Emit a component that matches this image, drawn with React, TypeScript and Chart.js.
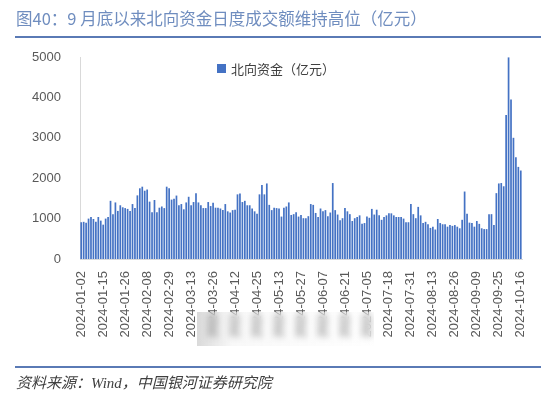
import React, { useEffect, useRef } from "react";
import { Chart, registerables } from "chart.js";

Chart.register(...registerables);

const year = "2024";
const janDays = [2, 3, 4, 5, 8, 9, 10, 11, 12, 15, 16, 17, 18, 19, 22, 23, 24, 25, 26, 29, 30, 31];
const febDays = [1, 2, 5, 6, 7, 8, 19, 20, 21, 22, 23, 26, 27, 28, 29];
const marDays = [1, 4, 5, 6, 7, 8, 11, 12, 13, 14, 15, 18, 19, 20, 21, 22, 25, 26, 27, 28];
const aprDays = [2, 3, 8, 9, 10, 11, 12, 15, 16, 17, 18, 19, 22, 23, 24, 25, 26, 29, 30];
const mayDays = [6, 7, 8, 9, 10, 13, 14, 16, 17, 20, 21, 22, 23, 24, 27, 28, 29, 30, 31];
const junDays = [3, 4, 5, 6, 7, 11, 12, 13, 14, 17, 18, 19, 20, 21, 24, 25, 26, 27, 28];
const julDays = [2, 3, 4, 5, 8, 9, 10, 11, 12, 15, 16, 17, 18, 19, 22, 23, 24, 25, 26, 29, 30, 31];
const augDays = [1, 2, 5, 6, 7, 8, 9, 12, 13, 14, 15, 16, 19, 20, 21, 22, 23, 26, 27, 28, 29, 30];
const sepDays = [2, 3, 4, 5, 9, 10, 11, 12, 13, 19, 20, 23, 24, 25, 26, 27, 30];
const octDays = [8, 9, 10, 14, 15, 16];

const monthDays: [string, number[]][] = [
  ["01", janDays], ["02", febDays], ["03", marDays], ["04", aprDays], ["05", mayDays],
  ["06", junDays], ["07", julDays], ["08", augDays], ["09", sepDays], ["10", octDays],
];

const categories: string[] = monthDays.flatMap(([m, ds]) =>
  ds.map((d) => `${year}-${m}-${String(d).padStart(2, "0")}`)
);

// 北向资金日度成交额（亿元）
const northboundTurnover = [
  910, 920, 900, 1000, 1040, 990, 920, 1040, 950, 850,
  1000, 1040, 1440, 1110, 1400, 1190, 1330, 1280, 1260, 1240,
  1190, 1360, 1260, 1575, 1750, 1790, 1690, 1720, 1420, 1160,
  1460, 1160, 1270, 1300, 1260, 1790, 1750, 1470, 1490, 1570,
  1330, 1360, 1230, 1400, 1540, 1330, 1410, 1630, 1400, 1330,
  1260, 1260, 1410, 1310, 1390, 1270, 1270,
  1250, 1210, 1360, 1180, 1150, 1210, 1220, 1600, 1620, 1410,
  1440, 1330, 1330, 1250, 1180, 1120,
  1600, 1830, 1600, 1870, 1340, 1210, 1270, 1260, 1250, 1050,
  1270, 1300, 1400, 1090, 1110, 1160, 1050, 1090, 1010, 1010,
  1060, 1360, 1340, 1140, 1040, 1250, 1180, 1210, 1060, 1150,
  1880, 1210, 1100, 960, 1010, 1260, 1180, 1110, 940, 1010,
  1040, 1080, 870, 890, 1050, 1020, 1240, 1100, 1220, 1080,
  970, 1040, 1080, 1130, 1130, 1080, 1040, 1040, 1040, 1000,
  910, 910, 1360, 1110, 1010, 1290, 1080, 890, 920, 860,
  770, 800, 730, 990, 890, 860, 860, 800, 840, 820,
  840, 800, 760, 970, 1670, 1120, 900, 890, 800, 940,
  870, 760, 740, 740, 1110, 1110, 840, 1630, 1870, 1880,
  1800, 3565, 4990, 3950, 3000, 2520, 2280, 2190,
];

const yMin = 0;
const yMax = 5000;
const yStep = 1000;
const labelEvery = 9;

const seriesName = "北向资金（亿元）";
const titleText = "图40：9 月底以来北向资金日度成交额维持高位（亿元）";
const sourceText = "资料来源：Wind，中国银河证券研究院";

const BAR_COLOR = "#4472C4";
const AXIS_TEXT = "#595959";

export default function App() {
  const canvasRef = useRef<HTMLCanvasElement | null>(null);

  useEffect(() => {
    if (!canvasRef.current) return;
    const chart = new Chart(canvasRef.current, {
      type: "bar",
      data: {
        labels: categories,
        datasets: [
          {
            label: seriesName,
            data: northboundTurnover,
            backgroundColor: BAR_COLOR,
            barPercentage: 0.7,
            categoryPercentage: 1,
          },
        ],
      },
      options: {
        responsive: false,
        maintainAspectRatio: false,
        animation: false,
        layout: { padding: { top: 57, right: 28, left: 0, bottom: 0 } },
        plugins: { legend: { display: false }, tooltip: { enabled: false }, title: { display: false } },
        scales: {
          x: {
            grid: { display: false, drawTicks: false },
            border: { display: true, color: "#d9d9d9" },
            ticks: {
              autoSkip: false,
              maxRotation: 90,
              minRotation: 90,
              padding: 12,
              color: AXIS_TEXT,
              font: { family: "Liberation Sans", size: 13 },
              callback: (_v: any, i: number) => (i % labelEvery === 0 ? categories[i] : null),
            },
            afterFit: (s: any) => {
              s.height = 139;
            },
          },
          y: {
            min: yMin,
            max: yMax,
            grid: { display: false, drawTicks: false },
            border: { display: true, color: "#d9d9d9" },
            ticks: {
              stepSize: yStep,
              padding: 19,
              color: AXIS_TEXT,
              font: { family: "Liberation Sans", size: 13 },
              callback: (v: any) => String(v),
            },
            afterFit: (s: any) => {
              s.width = 80;
            },
          },
        },
      },
    });
    return () => chart.destroy();
  }, []);

  return (
    <div
      style={{
        position: "fixed",
        left: 0,
        top: 0,
        width: 550,
        height: 398,
        background: "#ffffff",
        overflow: "hidden",
      }}
    >
      <canvas ref={canvasRef} width={550} height={398} style={{ position: "absolute", left: 0, top: 0, display: "block" }} />
      <div
        style={{
          position: "absolute",
          left: 16,
          top: 8,
          fontFamily: "'Noto Sans CJK SC', sans-serif",
          fontSize: 16.5,
          color: "#6f8dbf",
          whiteSpace: "nowrap",
          lineHeight: "20px",
        }}
      >
        {titleText}
      </div>
      <div style={{ position: "absolute", left: 15, top: 36, width: 526, height: 2, background: "#5a7ab5" }} />
      <div
        style={{
          position: "absolute",
          left: 217,
          top: 63,
          display: "flex",
          alignItems: "center",
          fontFamily: "'Noto Sans CJK SC', sans-serif",
          fontSize: 13,
          color: "#404040",
          whiteSpace: "nowrap",
        }}
      >
        <span style={{ display: "inline-block", width: 9, height: 9, background: BAR_COLOR, marginRight: 5 }} />
        <span style={{ lineHeight: "11px" }}>{seriesName}</span>
      </div>
      <div
        style={{
          position: "absolute",
          left: 197,
          top: 312,
          width: 177,
          height: 34,
          backdropFilter: "blur(3px)",
          WebkitBackdropFilter: "blur(3px)",
          background:
            "linear-gradient(90deg, rgba(120,120,120,0.28) 0%, rgba(190,190,190,0.10) 20%, rgba(235,235,235,0.04) 100%)",
        }}
      />
      <div style={{ position: "absolute", left: 15, top: 366, width: 526, height: 2, background: "#5a7ab5" }} />
      <div
        style={{
          position: "absolute",
          left: 16,
          top: 374,
          fontFamily: "'Liberation Serif', 'Noto Sans CJK SC', serif",
          fontStyle: "italic",
          fontSize: 15,
          color: "#404040",
          whiteSpace: "nowrap",
          lineHeight: "18px",
        }}
      >
        {sourceText}
      </div>
    </div>
  );
}
